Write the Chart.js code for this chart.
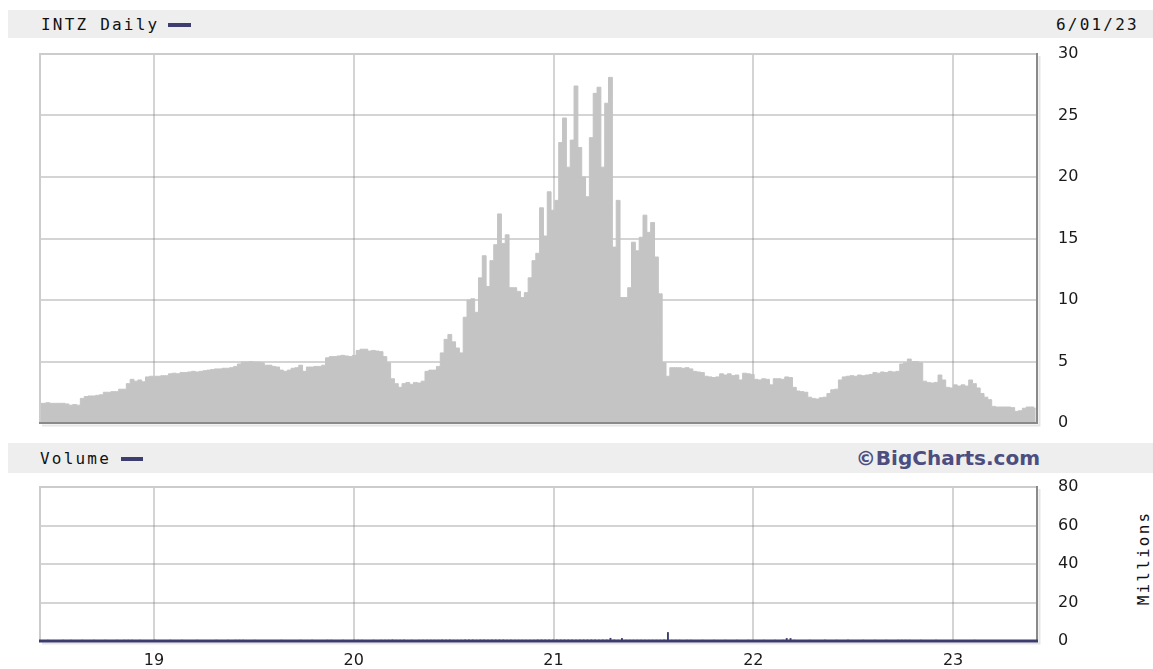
<!DOCTYPE html>
<html><head><meta charset="utf-8">
<script src="https://cdn.jsdelivr.net/npm/chart.js@4.4.1/dist/chart.umd.min.js"></script>
<style>
body{margin:0;background:#fff;width:1153px;height:669px;overflow:hidden;position:relative;font-family:"DejaVu Sans Mono",monospace;}
.bar{position:absolute;left:8px;right:0;background:#eeeeee;}
.lbl{position:absolute;font-size:16px;letter-spacing:2.2px;color:#111;line-height:16px;white-space:nowrap;}
.dash{position:absolute;height:4px;background:#3d3d70;}
canvas{position:absolute;left:0;}
#mil{position:absolute;left:1143px;top:558px;transform:translate(-50%,-50%) rotate(-90deg);font-size:16px;letter-spacing:2.2px;color:#111;white-space:nowrap;}
</style></head><body>
<div class="bar" style="top:10px;height:28px"></div>
<div class="lbl" style="left:41px;top:17px">INTZ Daily</div>
<div class="dash" style="left:168px;top:23px;width:23px"></div>
<div class="lbl" style="left:1056px;top:17px">6/01/23</div>
<div class="bar" style="top:443px;height:30px"></div>
<div class="lbl" style="left:40px;top:451px">Volume</div>
<div class="dash" style="left:121px;top:457px;width:22px"></div>
<div style="position:absolute;right:113px;top:446px;font:bold 20px 'DejaVu Sans';color:#4d4d80;white-space:nowrap">©BigCharts.com</div>
<div id="mil">Millions</div>
<canvas id="price" width="1153" height="440" style="top:0"></canvas>
<canvas id="vol" width="1153" height="229" style="top:440px"></canvas>
<script>
const startDate = '2018-06-07'; // weekly observations from this date
const prices = [
1.6,1.6,1.65,1.6,1.6,1.6,1.6,1.55,1.45,1.5,
1.45,2.0,2.15,2.2,2.2,2.25,2.3,2.5,2.5,2.55,
2.55,2.75,2.75,3.2,3.55,3.4,3.5,3.35,3.75,3.8,
3.8,3.8,3.85,3.85,4.0,4.05,4.0,4.1,4.1,4.15,
4.2,4.15,4.2,4.25,4.3,4.35,4.4,4.4,4.45,4.45,
4.5,4.6,4.8,4.95,4.95,5.0,4.95,4.95,4.9,4.7,
4.7,4.6,4.55,4.3,4.2,4.3,4.45,4.5,4.7,4.2,
4.55,4.55,4.6,4.6,4.7,5.3,5.4,5.4,5.45,5.5,
5.45,5.4,5.5,5.9,6.0,6.0,5.85,5.9,5.85,5.8,
5.4,4.9,3.6,3.2,2.9,3.2,3.3,3.15,3.3,3.25,
3.4,4.2,4.3,4.3,4.6,5.7,6.8,7.2,6.6,6.1,
5.7,8.6,10.0,10.1,9.0,11.8,13.6,11.1,13.2,14.5,
17.0,14.6,15.3,11.0,11.0,10.7,10.2,10.6,11.8,13.2,
13.8,17.5,15.2,18.8,17.3,18.1,22.8,24.8,20.8,23.0,
27.4,22.4,20.0,18.4,23.2,26.8,27.3,20.8,26.0,28.1,
14.3,18.1,10.2,10.2,11.0,14.7,14.0,15.1,16.9,15.5,
16.3,13.5,10.5,4.9,3.8,4.5,4.5,4.5,4.45,4.5,
4.4,4.2,4.15,4.1,3.8,3.75,3.7,3.75,4.0,3.9,
4.0,3.85,3.9,3.5,4.05,4.0,3.95,3.55,3.5,3.6,
3.55,3.1,3.6,3.6,3.55,3.75,3.7,2.9,2.6,2.55,
2.5,2.1,2.0,1.95,2.05,2.1,2.4,2.7,2.75,3.5,
3.75,3.8,3.85,3.8,3.9,3.85,3.9,3.95,4.1,4.05,
4.15,4.1,4.2,4.15,4.2,4.8,4.9,5.2,5.0,5.0,
4.9,3.4,3.3,3.25,3.3,3.9,3.5,2.9,2.85,3.1,
3.0,3.1,3.0,3.5,3.2,2.85,2.4,2.1,1.9,1.35,
1.3,1.3,1.3,1.3,1.25,0.95,1.0,1.2,1.3,1.3,1.2
];
const volumes = [ // millions
0.5,0.4,0.6,0.5,0.4,0.5,0.6,0.5,0.6,0.5,0.4,0.6,0.5,0.5,0.6,0.4,0.5,0.6,0.5,0.5,
0.6,0.5,0.6,0.6,0.6,0.5,0.6,0.5,0.4,0.5,0.6,0.5,0.5,0.4,0.6,0.5,0.5,0.6,0.5,0.4,
0.5,0.6,0.5,0.5,0.4,0.5,0.6,0.5,0.5,0.6,0.5,0.6,0.6,0.6,0.5,0.5,0.6,0.5,0.4,0.5,
0.5,0.4,0.5,0.6,0.5,0.5,0.4,0.5,0.6,0.5,0.5,0.6,0.5,0.4,0.5,0.6,0.6,0.5,0.5,0.6,
0.5,0.5,0.6,0.6,0.6,0.5,0.5,0.6,0.5,0.6,0.6,0.6,0.7,0.6,0.6,0.6,0.5,0.6,0.5,0.6,
0.6,0.6,0.6,0.6,0.6,0.7,0.7,0.7,0.6,0.6,0.6,0.7,0.7,0.7,0.6,0.7,0.7,0.6,0.7,0.7,
0.7,0.7,0.6,0.6,0.6,0.6,0.6,0.6,0.6,0.6,0.7,0.7,0.7,0.7,0.7,0.7,0.7,0.7,0.7,0.7,
0.7,0.7,0.7,0.7,0.7,0.7,0.7,0.7,0.7,1.6,0.7,0.6,1.5,0.6,0.6,0.6,0.6,0.6,0.6,0.6,
0.6,0.6,0.6,0.7,4.6,0.6,0.6,0.6,0.5,0.6,0.6,0.5,0.5,0.6,0.5,0.5,0.6,0.5,0.5,0.6,
0.5,0.5,0.6,0.5,0.5,0.6,0.5,0.5,0.5,0.6,0.5,0.5,0.6,0.5,0.6,1.5,1.5,0.6,0.5,0.5,
0.5,0.6,0.5,0.5,0.5,0.6,0.5,0.5,0.6,0.5,0.5,0.6,0.5,0.5,0.5,0.6,0.5,0.5,0.6,0.5,
0.5,0.6,0.5,0.5,0.6,0.6,0.6,0.6,0.5,0.5,0.6,0.5,0.5,0.5,0.6,0.5,0.5,0.4,0.5,0.5,
0.5,0.4,0.5,0.5,0.6,0.5,0.5,0.4,0.5,0.4,0.4,0.5,0.4,0.4,0.5,0.4,0.4,0.5,0.4,0.4,
0.5
];
const yearTicks = [2019, 2020, 2021, 2022, 2023];
const priceTicks = [0, 5, 10, 15, 20, 25, 30];
const volumeTicks = [0, 20, 40, 60, 80];

function toYear(d){
  const y = d.getUTCFullYear();
  const s = Date.UTC(y,0,1), e = Date.UTC(y+1,0,1);
  return y + (d.getTime()-s)/(e-s);
}
const weekYears = prices.map((_, i) => {
  const d = new Date(startDate + 'T00:00:00Z');
  d.setUTCDate(d.getUTCDate() + 7*i);
  return toYear(d);
});

const X_MIN = 2018.4295, X_MAX = 2023.42;
const gridColor = 'rgba(120,120,120,0.32)';
const tickFont = {family: 'DejaVu Sans', size: 16};
const tickColor = '#1a1a1a';

const framePlugin = {
  id: 'frame',
  afterDraw(chart, args, opts) {
    const {ctx, chartArea: a} = chart;
    ctx.save();
    ctx.lineWidth = 2;
    ctx.strokeStyle = '#cccccc';
    ctx.beginPath();
    ctx.moveTo(a.left, a.bottom); ctx.lineTo(a.left, a.top); ctx.lineTo(a.right, a.top);
    ctx.stroke();
    ctx.strokeStyle = 'rgba(0,0,0,0.10)';
    ctx.beginPath();
    ctx.moveTo(a.left + 2, a.bottom + 2.5); ctx.lineTo(a.right + 2.5, a.bottom + 2.5); ctx.lineTo(a.right + 2.5, a.top + 2);
    ctx.stroke();
    ctx.strokeStyle = '#8a8a8a';
    ctx.beginPath();
    ctx.moveTo(a.right, a.top - 1); ctx.lineTo(a.right, a.bottom);
    ctx.stroke();
    ctx.strokeStyle = opts.bottomColor || '#8a8a8a';
    ctx.lineWidth = opts.bottomWidth || 2;
    ctx.beginPath();
    ctx.moveTo(a.left - 1, a.bottom); ctx.lineTo(a.right + 1, a.bottom);
    ctx.stroke();
    ctx.restore();
  }
};

function xScale(showLabels, height) {
  return {
    type: 'linear', min: X_MIN, max: X_MAX, z: 1, offset: false,
    afterBuildTicks: s => { s.ticks = yearTicks.map(v => ({value: v})); },
    grid: {color: gridColor, lineWidth: 2, drawTicks: false, offset: false},
    border: {display: false},
    ticks: {display: showLabels, font: tickFont, color: tickColor, padding: 10,
            maxRotation: 0, callback: v => String(v).slice(2)},
    afterFit: s => { s.height = height; }
  };
}
function yScale(max, ticks) {
  return {
    position: 'right', min: 0, max: max, z: 1,
    afterBuildTicks: s => { s.ticks = ticks.map(v => ({value: v})); },
    grid: {color: gridColor, lineWidth: 2, drawTicks: false},
    border: {display: false},
    ticks: {font: tickFont, color: tickColor, padding: 21},
    afterFit: s => { s.width = 116; s.paddingTop = 0; s.paddingBottom = 0; }
  };
}

new Chart(document.getElementById('price'), {
  type: 'line',
  data: {datasets: [{
    data: prices.map((v, i) => ({x: weekYears[i], y: v})),
    stepped: 'middle', fill: 'origin',
    backgroundColor: '#c4c4c4', borderColor: '#c4c4c4', borderWidth: 1,
    pointRadius: 0
  }]},
  options: {
    responsive: false, animation: false, events: [],
    layout: {padding: {top: 54, left: 40, right: 0, bottom: 17}},
    plugins: {legend: {display: false}, tooltip: {enabled: false}, frame: {}},
    scales: {x: xScale(false, 0), y: yScale(30, priceTicks)}
  },
  plugins: [framePlugin]
});

new Chart(document.getElementById('vol'), {
  type: 'bar',
  data: {datasets: [{
    data: volumes.map((v, i) => ({x: weekYears[i], y: v})),
    backgroundColor: '#3c3c6e', barPercentage: 0.5, categoryPercentage: 1
  }]},
  options: {
    responsive: false, animation: false, events: [],
    layout: {padding: {top: 47, left: 40, right: 0, bottom: 0}},
    plugins: {legend: {display: false}, tooltip: {enabled: false},
              frame: {bottomColor: '#3c3c6e', bottomWidth: 3}},
    scales: {x: xScale(true, 28), y: yScale(80, volumeTicks)}
  },
  plugins: [framePlugin]
});
</script>
</body></html>
